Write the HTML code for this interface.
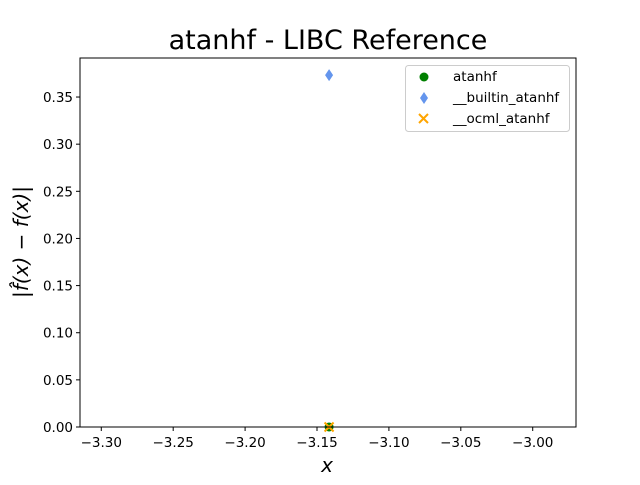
<!DOCTYPE html>
<html><head><meta charset="utf-8"><style>
body{margin:0;background:#fff;font-family:"Liberation Sans","DejaVu Sans",sans-serif}
svg text{font-family:"DejaVu Sans","Liberation Sans",sans-serif}
</style></head><body>
<svg id="c" width="640" height="480" xmlns="http://www.w3.org/2000/svg">
<text x="328" y="49" font-size="27" text-anchor="middle">atanhf - LIBC Reference</text>
<g id="ax"></g><g id="marks"></g>
<rect x="80" y="58" width="496" height="369" fill="none" stroke="#000" stroke-width="1"/>
<text x="327" y="472" font-size="20" font-style="italic" text-anchor="middle">x</text>
<text transform="translate(28,242) rotate(-90)" font-size="20" font-style="italic" text-anchor="middle">|f̂(x) − f(x)|</text>
<g>
<rect x="405.5" y="65.5" width="164" height="66" rx="3" fill="#fff" stroke="#ccc"/>
<circle cx="424" cy="77" r="4.5" fill="green"/>
<text x="453" y="81" font-size="13.5">atanhf</text>
<polygon points="424,92 428,98 424,104 420,98" fill="#6495ED"/>
<text x="453" y="102" font-size="13.5">__builtin_atanhf</text>
<path d="M419,114 l9,9 M428,114 l-9,9" stroke="orange" stroke-width="2"/>
<text x="453" y="123" font-size="13.5">__ocml_atanhf</text>
</g>
</svg>
<script>
const xTicks=[-3.30,-3.25,-3.20,-3.15,-3.10,-3.05,-3.00];
const yTicks=[0,0.05,0.10,0.15,0.20,0.25,0.30,0.35];
const xs=[-3.1416];
const atanhfVals=[0];
const builtinVals=[0.3733];
const ocmlVals=[0];
const X=v=>80+(v+3.3148)/(0.3449)*496;
const Y=v=>427-v/0.3914*369;
const ns="http://www.w3.org/2000/svg";
const ax=document.getElementById('ax'),mk=document.getElementById('marks');
function el(t,a,p){const e=document.createElementNS(ns,t);for(const k in a)e.setAttribute(k,a[k]);p.appendChild(e);return e;}
xTicks.forEach(v=>{const x=X(v);
const l=el('line',{x1:x,x2:x,y1:427,y2:431,stroke:'#000'},ax);


const t=el('text',{x:x,y:447,'font-size':13.5,'text-anchor':'middle'},ax);t.textContent=(v<0?'−':'')+Math.abs(v).toFixed(2);

});
yTicks.forEach(v=>{const y=Y(v);
const l=el('line',{x1:76,x2:80,y1:y,y2:y,stroke:'#000'},ax);


const t=el('text',{x:73,y:y+5,'font-size':13.5,'text-anchor':'end'},ax);t.textContent=v.toFixed(2);

});
xs.forEach((x,i)=>{
const px=X(x);
let c=el('circle',{cx:px,cy:Y(atanhfVals[i]),r:4.5,fill:'green'},mk);


let y=Y(builtinVals[i]);
let d=el('polygon',{points:`${px},${y-6} ${px+4},${y} ${px},${y+6} ${px-4},${y}`,fill:'#6495ED'},mk);


y=Y(ocmlVals[i]);
let p=el('path',{d:`M${px-4.5},${y-4.5} l9,9 M${px+4.5},${y-4.5} l-9,9`,stroke:'orange','stroke-width':2},mk);


});
</script>
</body></html>
